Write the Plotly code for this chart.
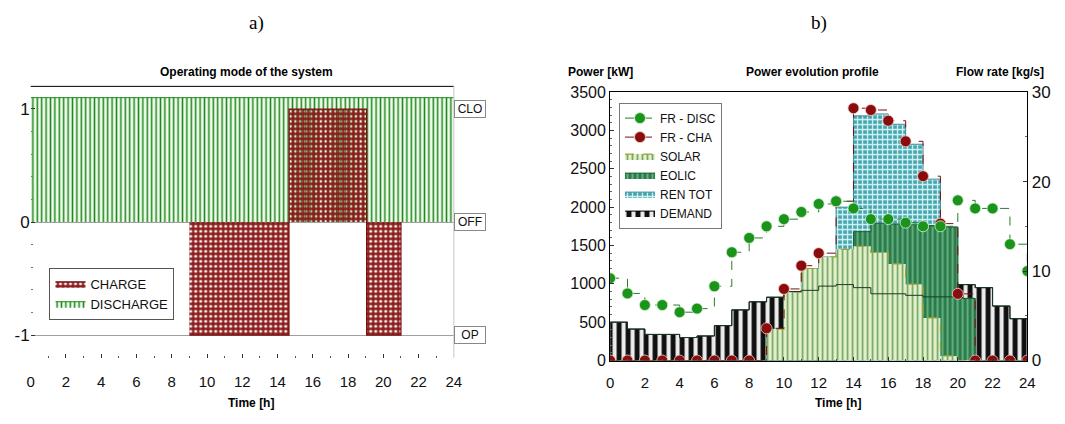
import plotly.graph_objects as go

# ---------------- Panel a) operating mode ----------------
mode_t = [9, 14.65, 19.05, 21]          # switching times [h]
charge_mode = [-1, 1, -1, 0]            # CHARGE series (step values)
discharge_t = [0, 24]
discharge_mode = [1.1, 1.1]             # DISCHARGE series
mode_levels = [1, 0, -1]
mode_level_text = ["1", "0", "-1"]
mode_names = ["CLO", "OFF", "OP"]
time_ticks = list(range(0, 25, 2))

# ---------------- Panel b) power evolution profile ----------------
hours = list(range(0, 25))
demand = [500, 410, 340, 340, 300, 320, 455, 660, 765, 825, 900, 915,
          970, 990, 950, 870, 870, 850, 830, 830, 990, 950, 710, 545]
solar = [0, 0, 0, 0, 0, 0, 0, 0, 0, 410, 890, 1200,
         1350, 1450, 1490, 1410, 1260, 995, 555, 60, 0, 0, 0, 0]
eolic = [0, 0, 0, 0, 0, 0, 0, 0, 0, 0, 0, 0,
         0, 540, 1680, 1790, 1780, 1770, 1760, 1740, 810, 0, 0, 0]
ren_tot = [0, 0, 0, 0, 0, 0, 0, 0, 0, 410, 890, 1200,
           1350, 2000, 3190, 3215, 3080, 2820, 2365, 1740, 810, 0, 0, 0]
fr_disc = [9.2, 7.5, 6.2, 6.2, 5.4, 5.8, 8.3, 12.1, 13.7, 15.0, 15.8, 16.6,
           17.5, 17.8, 17.0, 15.8, 15.8, 15.4, 15.0, 15.0, 17.9, 17.0, 17.0, 13.0, 10.0]
fr_cha = [0, 0, 0, 0, 0, 0, 0, 0, 0, 3.6, 8.0, 10.6,
          12.0, 17.8, 28.2, 28.0, 26.8, 24.5, 20.6, 15.3, 7.45, 0, 0, 0, 0]
power_ticks = list(range(0, 3501, 500))
flow_ticks = [0, 10, 20, 30]


def ext(v):
    # hourly values held until the next hour; repeat last to close at 24 h
    return v + v[-1:]


FONT = "Liberation Sans, Arial, sans-serif"
fig = go.Figure()

# ---- panel a traces ----
fig.add_trace(go.Scatter(
    x=discharge_t, y=discharge_mode, mode="lines", line=dict(color="#1a8a1a", width=1),
    fill="tozeroy", fillcolor="rgba(0,0,0,0)",
    fillpattern=dict(shape="|", fgcolor="#1b8a1b", bgcolor="#f3fbef", size=4.4, solidity=0.35,
                     fillmode="replace"),
    name="DISCHARGE", legend="legend", legendrank=2, xaxis="x", yaxis="y"))
fig.add_trace(go.Scatter(
    x=mode_t, y=charge_mode, mode="lines", line=dict(color="#7a1212", width=1.2, shape="hv"),
    fill="tozeroy", fillcolor="rgba(0,0,0,0)",
    fillpattern=dict(shape="+", fgcolor="#8a1818", bgcolor="rgba(0,0,0,0)", size=5, solidity=0.7,
                     fillmode="replace"),
    name="CHARGE", legend="legend", legendrank=1, xaxis="x", yaxis="y"))

# ---- panel b traces ----
fig.add_trace(go.Scatter(
    x=hours, y=ext(demand), mode="lines", line=dict(color="#000000", width=1, shape="hv"),
    fill="tozeroy", fillcolor="rgba(0,0,0,0)",
    fillpattern=dict(shape="|", fgcolor="#ececec", bgcolor="#101010", size=9, solidity=0.45,
                     fillmode="replace"),
    name="DEMAND", legend="legend2", legendrank=6, xaxis="x2", yaxis="y2"))
fig.add_trace(go.Scatter(
    x=hours, y=ext(ren_tot), mode="lines", line=dict(color="#3d8a92", width=1, shape="hv"),
    fill="tozeroy", fillcolor="rgba(0,0,0,0)",
    fillpattern=dict(shape="+", fgcolor="#d2f4f6", bgcolor="#45a3ad", size=5, solidity=0.45,
                     fillmode="replace"),
    name="REN TOT", legend="legend2", legendrank=5, xaxis="x2", yaxis="y2"))
fig.add_trace(go.Scatter(
    x=hours, y=ext(eolic), mode="lines", line=dict(color="#1e5e30", width=1, shape="hv"),
    fill="tozeroy", fillcolor="rgba(0,0,0,0)",
    fillpattern=dict(shape="|", fgcolor="#63b07e", bgcolor="#2a7a4c", size=5, solidity=0.4,
                     fillmode="replace"),
    name="EOLIC", legend="legend2", legendrank=4, xaxis="x2", yaxis="y2"))
fig.add_trace(go.Scatter(
    x=hours, y=ext(solar), mode="lines", line=dict(color="#a4a030", width=1.2, shape="hv", dash="dash"),
    fill="tozeroy", fillcolor="rgba(0,0,0,0)",
    fillpattern=dict(shape="|", fgcolor="#74a866", bgcolor="#e4f0cc", size=5, solidity=0.35,
                     fillmode="replace"),
    name="SOLAR", legend="legend2", legendrank=3, xaxis="x2", yaxis="y2"))
fig.add_trace(go.Scatter(
    x=hours, y=ext(demand), mode="lines", line=dict(color="#1a3a22", width=1, shape="hv"),
    showlegend=False, hoverinfo="skip", xaxis="x2", yaxis="y2"))
fig.add_trace(go.Scatter(
    x=hours, y=fr_cha, mode="lines+markers",
    line=dict(color="#7a1010", width=1, dash="dash", shape="hv"),
    marker=dict(color="#8b0c0c", size=11, line=dict(color="#f0d0d0", width=0.8)),
    name="FR - CHA", legend="legend2", legendrank=2, xaxis="x2", yaxis="y3"))
fig.add_trace(go.Scatter(
    x=hours, y=fr_disc, mode="lines+markers",
    line=dict(color="#2c7a2c", width=1, dash="dash", shape="hv"),
    marker=dict(color="#1a941a", size=11, line=dict(color="#d8f0d8", width=0.8)),
    name="FR - DISC", legend="legend2", legendrank=1, xaxis="x2", yaxis="y3"))

W, H = 1065, 424
ax_common = dict(ticks="inside", ticklen=4, tickcolor="#333", showgrid=False, zeroline=False,
                 tickfont=dict(family=FONT, size=15, color="#111"))

fig.update_layout(
    width=W, height=H, autosize=False,
    margin=dict(l=0, r=0, t=0, b=0),
    paper_bgcolor="white", plot_bgcolor="white",
    font=dict(family=FONT, color="#111"),
    xaxis=dict(domain=[27 / W, 455 / W], range=[0, 24], anchor="y", tickvals=time_ticks,
               minor=dict(dtick=1, ticks="inside", ticklen=2, tickcolor="#555"),
               ticklabelstandoff=13, **ax_common),
    yaxis=dict(domain=[(H - 365) / H, (H - 81) / H], range=[-1.2, 1.2], anchor="x",
               tickvals=mode_levels, ticktext=mode_level_text,
               ticks="inside", ticklen=4, tickcolor="#333",
               showgrid=True, gridcolor="#a0a0a0", gridwidth=1, zeroline=False,
               minor=dict(dtick=0.2, ticks="inside", ticklen=2, tickcolor="#777", showgrid=False),
               tickfont=dict(family=FONT, size=17, color="#111")),
    xaxis2=dict(domain=[613 / W, 1035 / W], range=[0, 24], anchor="y2", tickvals=time_ticks,
                showline=True, linecolor="#000", mirror=True,
                minor=dict(dtick=1, ticks="inside", ticklen=2, tickcolor="#555"),
                ticklabelstandoff=8, **ax_common),
    yaxis2=dict(domain=[(H - 368) / H, (H - 87) / H], range=[0, 3500], anchor="x2",
                tickvals=power_ticks, showline=True, linecolor="#000",
                minor=dict(dtick=100, ticks="inside", ticklen=2, tickcolor="#666"),
                ticks="inside", ticklen=4, tickcolor="#333", showgrid=False, zeroline=False,
                tickfont=dict(family=FONT, size=16, color="#111")),
    yaxis3=dict(overlaying="y2", side="right", range=[0, 30], anchor="x2",
                tickvals=flow_ticks, showline=True, linecolor="#000",
                minor=dict(dtick=5, ticks="inside", ticklen=2, tickcolor="#666"),
                ticks="inside", ticklen=4, tickcolor="#333", showgrid=False, zeroline=False,
                tickfont=dict(family=FONT, size=17, color="#111")),
    legend=dict(x=46 / W, y=1 - 271 / H, xanchor="left", yanchor="top",
                bgcolor="white", bordercolor="#555", borderwidth=1,
                font=dict(family=FONT, size=13, color="#111"),
                itemwidth=30, tracegroupgap=0, traceorder="normal"),
    legend2=dict(x=622 / W, y=1 - 98 / H, xanchor="left", yanchor="top",
                 bgcolor="white", bordercolor="#777", borderwidth=1,
                 font=dict(family=FONT, size=12, color="#111"),
                 itemwidth=30, tracegroupgap=0, traceorder="normal"),
    showlegend=True,
)

# top border of panel a
fig.add_shape(type="line", xref="x domain", yref="y domain", x0=0, x1=1, y0=1, y1=1,
              line=dict(color="#000", width=1))
fig.add_shape(type="line", xref="x domain", yref="y domain", x0=1, x1=1, y0=0, y1=1,
              line=dict(color="#c8c8c8", width=1))

# mode labels at right of panel a
for lvl, nm in zip(mode_levels, mode_names):
    fig.add_annotation(x=1, xref="x domain", y=lvl, yref="y", xanchor="left", yanchor="middle",
                       text=nm, showarrow=False, bgcolor="white", bordercolor="#888",
                       borderwidth=1, borderpad=1, width=28,
                       font=dict(family=FONT, size=12, color="#111"))

texts = [
    ("a)", 255, 15, 19, False, "Liberation Serif, Times New Roman, serif"),
    ("b)", 824, 15, 19, False, "Liberation Serif, Times New Roman, serif"),
    ("Operating mode of the system", 245, 66, 12, True, FONT),
    ("Power evolution profile", 818, 66, 12, True, FONT),
    ("Power [kW]", 603, 66, 12, True, FONT),
    ("Flow rate [kg/s]", 1007, 66, 12, True, FONT),
    ("Time [h]", 250, 412, 12, True, FONT),
    ("Time [h]", 843, 412, 12, True, FONT),
]
for t, px, py, sz, bold, fam in texts:
    fig.add_annotation(x=px / W, y=1 - py / H, xref="paper", yref="paper",
                       text=f"<b>{t}</b>" if bold else t, showarrow=False,
                       xanchor="center", yanchor="middle",
                       font=dict(family=fam, size=sz, color="#000"))

fig.write_html("out.html")
